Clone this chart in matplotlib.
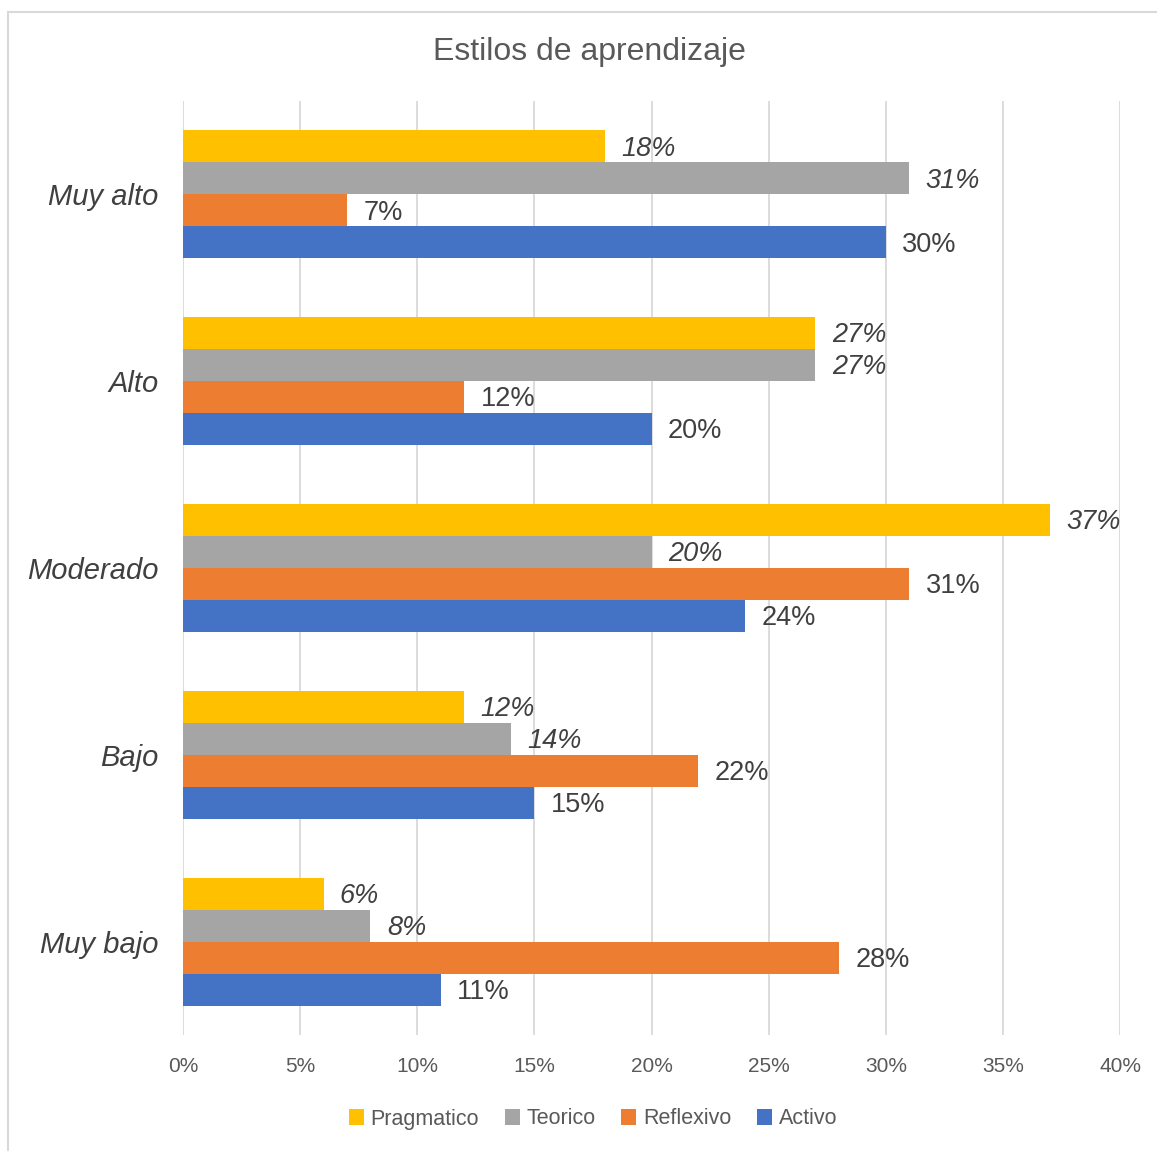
import matplotlib as mpl
mpl.use('Agg')
from matplotlib import pyplot as plt
from matplotlib.patches import Rectangle
import numpy as np

plt.rcParams['font.family'] = ['Liberation Sans', 'DejaVu Sans']

categories = ['Muy alto', 'Alto', 'Moderado', 'Bajo', 'Muy bajo']
series = ['Pragmatico', 'Teorico', 'Reflexivo', 'Activo']
pragmatico = [18, 27, 37, 12, 6]
teorico = [31, 27, 20, 14, 8]
reflexivo = [7, 12, 31, 22, 28]
activo = [30, 20, 24, 15, 11]
xticks = [0, 5, 10, 15, 20, 25, 30, 35, 40]

values = [pragmatico, teorico, reflexivo, activo]
colors = ['#FFC000', '#A5A5A5', '#ED7D31', '#4472C4']
italic = [True, True, False, False]

fig = plt.figure(figsize=(11.57, 11.51), dpi=100)
fig.patches.append(Rectangle((8 / 1157, -0.01), 1.02, 1 - 12 / 1151 + 0.01,
                             transform=fig.transFigure, fill=False,
                             edgecolor='#D9D9D9', linewidth=1.5))
ax = fig.add_axes([183 / 1157, 1 - 1035 / 1151, (1120 - 183) / 1157, (1035 - 101) / 1151])

bh = 32 / 186.7
y = np.arange(len(categories))
for k in range(len(series)):
    pos = y + (k - 1.5) * bh
    ax.barh(pos, values[k], height=bh, color=colors[k], label=series[k], zorder=3)
    for p, v in zip(pos, values[k]):
        ax.text(v + 0.7, p + 0.012, '%d%%' % v, va='center', ha='left', fontsize=19.5,
                color='#404040', style='italic' if italic[k] else 'normal')

ax.set_ylim(len(categories) - 0.5, -0.5)
ax.set_xlim(0, 40)
ax.set_yticks(y)
ax.set_yticklabels(categories, fontsize=21, style='italic', color='#404040')
ax.set_xticks(xticks)
ax.set_xticklabels(['%d%%' % t for t in xticks], fontsize=15, color='#595959')
ax.tick_params(axis='both', length=0)
ax.tick_params(axis='y', pad=17.5)
ax.tick_params(axis='x', pad=16)
ax.grid(axis='x', color='#D9D9D9', linewidth=1.3, zorder=0)
for s in ax.spines.values():
    s.set_visible(False)

fig.text(589 / 1157, 1 - 52 / 1151, 'Estilos de aprendizaje', ha='center', va='center',
         fontsize=23, color='#595959')

ax.legend(loc='center', bbox_to_anchor=(593 / 1157, 1 - 1119 / 1151),
          bbox_transform=fig.transFigure, ncol=4, frameon=False, fontsize=15.5,
          handlelength=0.7, handleheight=0.7, handletextpad=0.3, columnspacing=1.2,
          labelcolor='#595959')

plt.savefig('out.png', dpi=100)
